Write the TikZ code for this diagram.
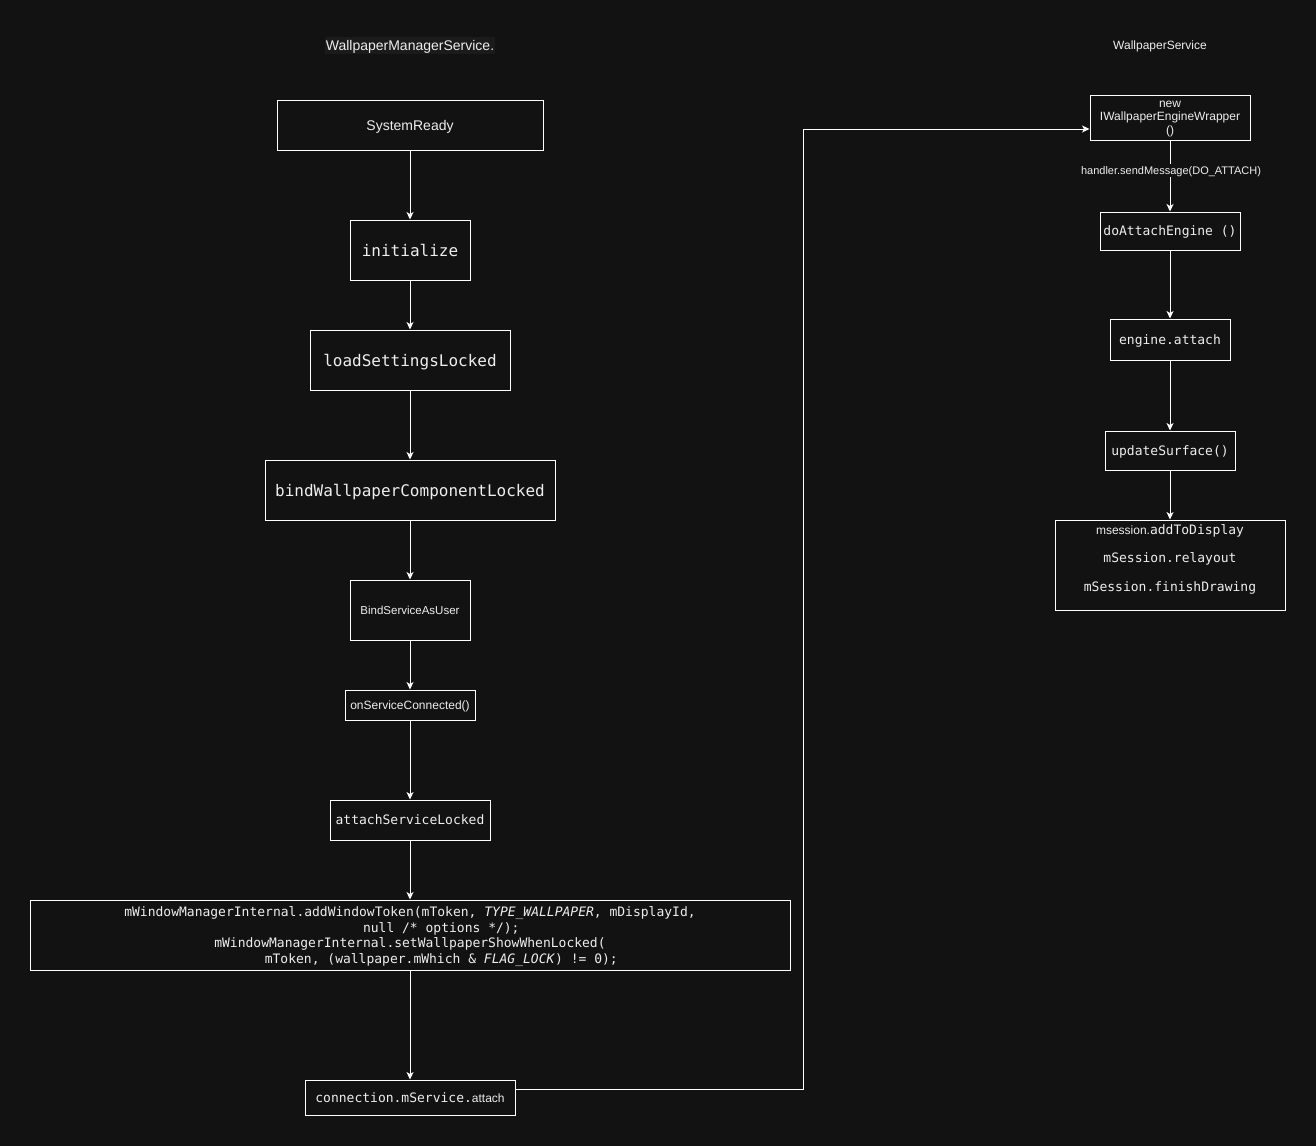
\documentclass[tikz,border=0pt]{standalone}
\usepackage{fontspec}
\setmainfont{Liberation Sans}
\setmonofont{DejaVu Sans Mono}
\usetikzlibrary{arrows.meta}
\definecolor{bg}{HTML}{121212}
\definecolor{titlebg}{HTML}{1B1B1B}
\definecolor{fg}{HTML}{EEEEEE}
\newcommand{\fsz}[2]{\fontsize{#1}{#2}\selectfont}
\tikzset{
  box/.style={draw=white, line width=1pt, fill=bg, text=fg, inner sep=0pt, align=center, text depth=0pt},
  txt/.style={text=fg, inner sep=0pt, align=center, text depth=0pt},
  arr/.style={draw=white, line width=1pt, -{Stealth[length=7.5pt,width=7pt,inset=2pt]}},
}
\begin{document}
\begin{tikzpicture}[x=1pt,y=-1pt]
\fill[bg] (0,0) rectangle (1316,1146);
\useasboundingbox (0,0) rectangle (1316,1146);

% titles
\node[txt, fill=titlebg, inner xsep=1pt, inner ysep=3pt, font=\fsz{14}{16}] (t1) at (410,45.5) {WallpaperManagerService.};
\node[txt, font=\fsz{12}{14}] (t2) at (1160,45.5) {WallpaperService};

% left column
\node[box, minimum width=266, minimum height=50, font=\fsz{14}{16}] (sr) at (410,125) {SystemReady};
\node[box, minimum width=120, minimum height=60, font=\ttfamily\fsz{16}{18}] (init) at (410,250) {initialize};
\node[box, minimum width=200, minimum height=60, font=\ttfamily\fsz{16}{18}] (load) at (410,360) {loadSettingsLocked};
\node[box, minimum width=290, minimum height=60, font=\ttfamily\fsz{16}{18}] (bind) at (410,490) {bindWallpaperComponentLocked};
\node[box, minimum width=120, minimum height=60, font=\fsz{11.5}{13}] (bsu) at (410,610) {BindServiceAsUser};
\node[box, minimum width=130, minimum height=30, font=\fsz{12}{14}] (osc) at (410,705) {onServiceConnected()};
\node[box, minimum width=160, minimum height=40, font=\ttfamily\fsz{13}{15}] (asl) at (410,820) {attachServiceLocked};
\node[box, minimum width=760, minimum height=70, font=\ttfamily\fsz{13}{15.8}] (code) at (410,935)
  {mWindowManagerInternal.addWindowToken(mToken, \textit{TYPE\_WALLPAPER}, mDisplayId,\\
   \hphantom{xxxxxxxx}null /* options */);\\
   mWindowManagerInternal.setWallpaperShowWhenLocked(\\
   \hphantom{xxxxxxxx}mToken, (wallpaper.mWhich \& \textit{FLAG\_LOCK}) != 0);};
\node[box, minimum width=210, minimum height=35] (conn) at (410,1097.5)
  {{\ttfamily\fsz{13}{15}connection.mService.}{\fsz{12}{14}attach}};

% right column
\node[box, minimum width=160, minimum height=45, font=\fsz{12}{13.5}] (iw) at (1170,117.5) {new\\IWallpaperEngineWrapper\\()};
\node[box, minimum width=140, minimum height=38, font=\ttfamily\fsz{13}{15}] (dae) at (1170,231) {doAttachEngine ()};
\node[box, minimum width=120, minimum height=41, font=\ttfamily\fsz{13}{15}] (ea) at (1170,339.5) {engine.attach};
\node[box, minimum width=130, minimum height=39, font=\ttfamily\fsz{13}{15}] (us) at (1170,450.5) {updateSurface()};
\node[box, minimum width=230, minimum height=90] (ms) at (1170,565) {};
\node[txt] (ms1) at (1170,530) {{\fsz{12}{14}msession.}{\ttfamily\fsz{13}{15}addToDisplay}};
\node[txt, font=\ttfamily\fsz{13}{15}] (ms2) at (1170,558) {mSession.relayout};
\node[txt, font=\ttfamily\fsz{13}{15}] (ms3) at (1170,587) {mSession.finishDrawing};

% connectors left
\draw[arr] (sr.south) -- (init.north);
\draw[arr] (init.south) -- (load.north);
\draw[arr] (load.south) -- (bind.north);
\draw[arr] (bind.south) -- (bsu.north);
\draw[arr] (bsu.south) -- (osc.north);
\draw[arr] (osc.south) -- (asl.north);
\draw[arr] (asl.south) -- (code.north);
\draw[arr] (code.south) -- (conn.north);

% cross connector
\coordinate (c1) at ([yshift=8.5pt]conn.east);
\coordinate (c2) at ([yshift=-11.5pt]iw.west);
\coordinate (mx) at (803,0);
\draw[arr] (c1) -- (mx |- c1) -- (mx |- c2) -- (c2);

% connectors right
\draw[arr] (iw.south) -- (dae.north);
\node[txt, fill=bg, inner xsep=1pt, inner ysep=3pt, font=\fsz{11}{13}] (lbl) at (1171,170.5) {handler.sendMessage(DO\_ATTACH)};
\draw[arr] (dae.south) -- (ea.north);
\draw[arr] (ea.south) -- (us.north);
\draw[arr] (us.south) -- (ms.north);
\end{tikzpicture}
\end{document}
